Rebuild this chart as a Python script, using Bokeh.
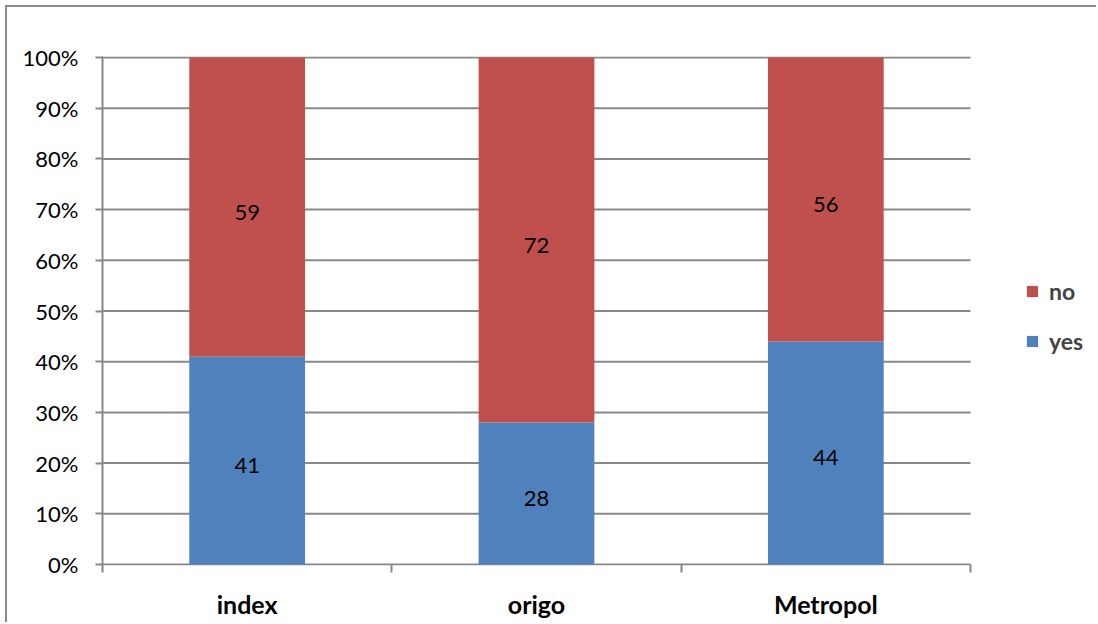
from bokeh.plotting import figure
from bokeh.models import ColumnDataSource, FixedTicker, Legend, LegendItem, Range1d
from bokeh.core.properties import value
from bokeh.embed import file_html
from bokeh.resources import INLINE

categories = ["index", "origo", "Metropol"]
yes = [41, 28, 44]
no = [59, 72, 56]
y_ticks = [0, 10, 20, 30, 40, 50, 60, 70, 80, 90, 100]

BLUE = "#4F81BD"
RED = "#C0504D"
GRAY = "#888888"
FONT = "Lato"

n = len(categories)
x = [i + 0.5 for i in range(n)]
total = [a + b for a, b in zip(yes, no)]
yes_f = [a / t for a, t in zip(yes, total)]
no_f = [b / t for b, t in zip(no, total)]
src = ColumnDataSource(dict(
    x=x, yes=yes_f, no=no_f,
    yes_lab=[str(v) for v in yes], no_lab=[str(v) for v in no],
    yes_mid=[f / 2 for f in yes_f],
    no_mid=[a + b / 2 for a, b in zip(yes_f, no_f)],
))
grid_src = ColumnDataSource(dict(y=[t / 100 for t in y_ticks],
                                 x0=[0] * len(y_ticks), x1=[n] * len(y_ticks)))

W, H = 1091, 617
LEFT, TOP, BOTTOM = 95, 49, 59
plot_px = 868  # pixel width of the category area
x_end = n * (W - LEFT) / plot_px

p = figure(width=W, height=H, x_range=Range1d(0, x_end), y_range=Range1d(-0.002, 1.002),
           output_backend="svg", toolbar_location=None,
           min_border_left=LEFT, min_border_top=TOP, min_border_bottom=BOTTOM, min_border_right=0)
p.styles = {"margin-left": "7px", "margin-top": "7px", "box-shadow": "-2px -2px 0 0 #8a8a8a"}
p.outline_line_color = None
p.background_fill_color = "white"
p.border_fill_color = "white"

# gridlines limited to the category area
p.segment(x0="x0", x1="x1", y0="y", y1="y", source=grid_src, line_color=GRAY, line_width=2)

rs = p.vbar_stack(["yes", "no"], x="x", width=0.4, color=[BLUE, RED], source=src, line_color=None)

for col, lab in (("yes_mid", "yes_lab"), ("no_mid", "no_lab")):
    p.text(x="x", y=col, text=lab, source=src, text_align="center", text_baseline="middle",
           y_offset=5, text_font=value(FONT), text_font_size="22px", text_color="black")

# y axis
p.yaxis.ticker = FixedTicker(ticks=[t / 100 for t in y_ticks], minor_ticks=[])
p.yaxis.major_label_overrides = {t / 100: f"{t}%" for t in y_ticks}
p.yaxis.axis_line_color = GRAY
p.yaxis.axis_line_width = 2
p.yaxis.major_tick_line_color = GRAY
p.yaxis.major_tick_line_width = 2
p.yaxis.major_tick_out = 7
p.yaxis.major_tick_in = 0
p.yaxis.major_label_standoff = 17
p.yaxis.major_label_text_font = FONT
p.yaxis.major_label_text_font_size = "22px"
p.yaxis.major_label_text_color = "black"

# x axis: labels at category centres, tick marks at category boundaries
p.xaxis.ticker = FixedTicker(ticks=x, minor_ticks=list(range(n + 1)))
p.xaxis.major_label_overrides = {xx: c for xx, c in zip(x, categories)}
p.xaxis.axis_line_color = None
p.xaxis.major_tick_line_color = None
p.xaxis.major_tick_out = 0
p.xaxis.major_tick_in = 0
p.xaxis.minor_tick_line_color = GRAY
p.xaxis.minor_tick_line_width = 2
p.xaxis.minor_tick_out = 7
p.xaxis.minor_tick_in = 1
p.xaxis.major_label_standoff = 16
p.xaxis.major_label_text_font = FONT
p.xaxis.major_label_text_font_style = "bold"
p.xaxis.major_label_text_font_size = "25px"
p.xaxis.major_label_text_color = "black"

p.xgrid.grid_line_color = None
p.ygrid.grid_line_color = None

legend = Legend(items=[LegendItem(label="no", renderers=[rs[1]]),
                       LegendItem(label="yes", renderers=[rs[0]])],
                location=(923, 210), orientation="vertical",
                margin=0, padding=0, spacing=22,
                glyph_width=14, glyph_height=14, label_standoff=10, label_height=20,
                label_text_font=FONT, label_text_font_style="bold", label_text_font_size="23px",
                border_line_color=None, background_fill_alpha=0)
p.add_layout(legend, "center")

open("out.html", "w").write(file_html(p, INLINE))
